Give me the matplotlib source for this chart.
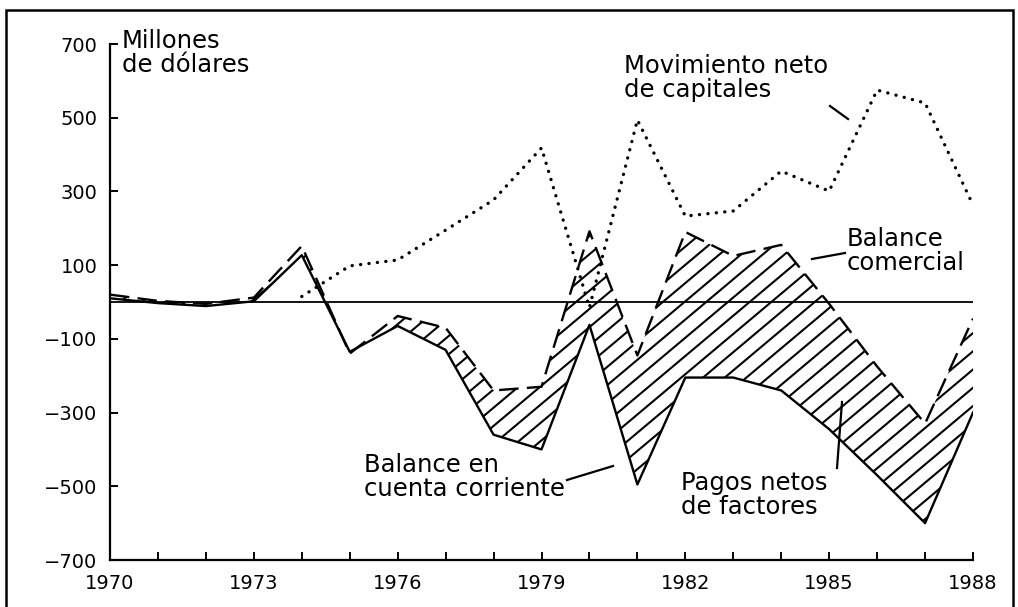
import numpy as np
import matplotlib
matplotlib.use('Agg')
import matplotlib.pyplot as plt
from matplotlib.lines import Line2D
from matplotlib.patches import Rectangle
from matplotlib.collections import LineCollection

# datos (millones de dolares)
anos = [1970, 1971, 1972, 1973, 1974, 1975, 1976, 1977, 1978, 1979,
        1980, 1981, 1982, 1983, 1984, 1985, 1986, 1987, 1988]
cuenta_corriente = [10, -3, -11, 2, 127, -135, -65, -130, -360, -400,
                    -62, -495, -205, -205, -240, -345, -470, -600, -300]
balance_comercial = [20, 3, -5, 12, 152, -140, -38, -70, -240, -230,
                     192, -145, 190, 125, 155, -5, -175, -330, -45]
anos_cap = [1974, 1975, 1976, 1977, 1978, 1979, 1980, 1981, 1982,
            1983, 1984, 1985, 1986, 1987, 1988]
capitales = [15, 98, 114, 195, 277, 418, -15, 494, 233,
             247, 355, 301, 575, 540, 263]

yticks = [-700, -500, -300, -100, 100, 300, 500, 700]
xlabels = [1970, 1973, 1976, 1979, 1982, 1985, 1988]

W, H = 1018, 607
plt.rcParams['font.family'] = 'DejaVu Sans'
plt.rcParams['lines.scale_dashes'] = False

fig = plt.figure(figsize=(W / 100, H / 100), dpi=100)
ax = fig.add_axes([110 / W, 1 - 560 / H, (973 - 110) / W, (560 - 44) / H])


def px(x, y):
    return (x / W, 1 - y / H)


# zona rayada: pagos netos de factores (rayas hechas a mano para
# controlar separacion y angulo)
zona = ax.fill_between(anos, cuenta_corriente, balance_comercial,
                       facecolor='none', linewidth=0)
pend = 0.84
segs = []
for x0 in np.arange(110 - 700, 980, 21.7):
    xa, xb = x0, x0 + 700
    segs.append([(xa / W, 0.0), (xb / W, pend * 700 / H)])
rayas = LineCollection(segs, colors='black', linewidths=1.5,
                       transform=fig.transFigure)
fig.add_artist(rayas)
rayas.set_clip_path(zona.get_paths()[0], zona.get_transform())

ax.plot(anos, cuenta_corriente, color='black', lw=1.7)
ax.plot(anos, balance_comercial, color='black', lw=1.7, dashes=(14, 6))
ax.plot(anos_cap, capitales, color='black', lw=2.4, dashes=(0.1, 6),
        dash_capstyle='round')
ax.plot([1970, 1988], [0, 0], color='black', lw=1.3)

ax.set_xlim(1970, 1988)
ax.set_ylim(-700, 700)
ax.set_xticks(anos)
ax.set_xticklabels([str(a) if a in xlabels else '' for a in anos])
ax.set_yticks(yticks)
ax.tick_params(direction='in', length=6, width=1.4, labelsize=14)
ax.tick_params(axis='x', pad=10)
ax.tick_params(axis='y', pad=9)
for s in ['top', 'right']:
    ax.spines[s].set_visible(False)
for s in ['left', 'bottom']:
    ax.spines[s].set_linewidth(1.6)

# textos
fs = 17.5
ls = 1.0
fig.text(*px(122, 29), 'Millones\nde dólares', fontsize=fs, va='top', linespacing=ls)
fig.text(*px(624, 54), 'Movimiento neto\nde capitales', fontsize=fs, va='top', linespacing=ls)
fig.text(*px(847, 227), 'Balance\ncomercial', fontsize=fs, va='top', linespacing=ls)
fig.text(*px(364, 453), 'Balance en\ncuenta corriente', fontsize=fs, va='top', linespacing=ls)
fig.text(*px(681, 471), 'Pagos netos\nde factores', fontsize=fs, va='top', linespacing=ls)

# lineas guia
for (x0, y0), (x1, y1) in [((830, 106), (848, 119)),
                           ((812, 259), (845, 253)),
                           ((567, 480), (613, 466)),
                           ((837, 468), (842, 402))]:
    a, b = px(x0, y0)
    c, d = px(x1, y1)
    fig.add_artist(Line2D([a, c], [b, d], color='black', lw=1.6,
                          transform=fig.transFigure))

# marco
fig.add_artist(Rectangle(px(6, 612), (1013 - 6) / W, (612 - 10) / H,
                         fill=False, lw=1.8, edgecolor='black',
                         transform=fig.transFigure))

fig.savefig('out.png', dpi=100)
